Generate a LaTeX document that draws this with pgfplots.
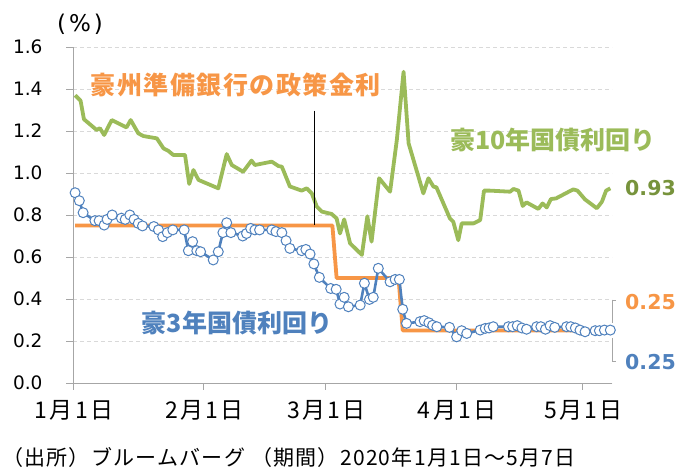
\documentclass[border=0pt]{standalone}
\usepackage{fontspec}
\setmainfont{Noto Sans CJK JP}
\newfontfamily\dv{DejaVu Sans}
\newfontfamily\jpls{Noto Sans CJK JP}[LetterSpace=10]
\newfontfamily\jpsrc{Noto Sans CJK JP}[LetterSpace=6]
\newfontfamily\jpor{Noto Sans CJK JP}[LetterSpace=6]
\usepackage{pgfplots}
\pgfplotsset{compat=1.18}
\definecolor{grn}{HTML}{9BBB59}
\definecolor{dgrn}{HTML}{77933C}
\definecolor{org}{HTML}{F79646}
\definecolor{blu}{HTML}{4F81BD}
\definecolor{axg}{HTML}{A6A6A6}
\definecolor{grd}{HTML}{D9D9D9}
\begin{document}
\begin{tikzpicture}[x=1pt,y=1pt]
\useasboundingbox (-73,-87) rectangle (602,383);
\begin{axis}[at={(0,0)}, anchor=south west, scale only axis,
  width=539pt, height=336pt,
  xmin=0, xmax=128, ymin=0, ymax=1.6,
  axis x line*=bottom, axis y line*=left,
  axis line style={draw=axg, line width=0.9pt},
  xtick={0,31,60,91,121},
  xticklabels={1月1日,2月1日,3月1日,4月1日,5月1日},
  ytick={0,0.2,0.4,0.6,0.8,1.0,1.2,1.4,1.6},
  yticklabels={0.0,0.2,0.4,0.6,0.8,1.0,1.2,1.4,1.6},
  ymajorgrids,
  grid style={draw=grd, line width=0.9pt, dash pattern=on 4pt off 3pt},
  tick align=outside, major tick length=7pt,
  tick style={draw=axg, line width=0.9pt},
  yticklabel style={font=\dv\fontsize{18.5}{18.5}\selectfont, anchor=east, xshift=-20pt},
  xticklabel style={font=\jpls\fontsize{23}{23}\selectfont, anchor=north, yshift=-7pt, xshift=1pt},
  clip=false,
]
% 10-year
\addplot[grn, line width=3.8pt, line join=round] coordinates {
(0.5,1.37)(1.8,1.344)(2.6,1.256)(5.6,1.205)(6.4,1.213)(7.4,1.181)(9.2,1.252)
(12.7,1.217)(13.7,1.252)(15.5,1.189)(16.7,1.176)(19.9,1.165)(21.5,1.117)
(22.6,1.106)(23.8,1.086)(26.6,1.086)(27.6,0.948)(28.6,1.014)(29.8,0.967)
(34.5,0.927)(36.5,1.09)(37.7,1.038)(40.4,1.006)(42.4,1.059)(43.2,1.038)
(47.2,1.054)(48.8,1.033)(49.6,1.030)(51.5,0.936)(54.3,0.916)(55.5,0.927)
(56.7,0.903)(57.9,0.840)(59.1,0.816)(61.4,0.805)(62.6,0.784)(63.4,0.712)
(64.4,0.779)(65.8,0.665)(68.6,0.610)(69.9,0.794)(70.9,0.673)(72.7,0.975)
(75.3,0.911)(76.9,1.157)(78.5,1.482)(79.7,1.141)(83.2,0.903)(84.4,0.975)
(85.6,0.935)(86.3,0.932)(89.5,0.784)(90.3,0.768)(91.5,0.680)(92.3,0.760)
(95.1,0.760)(96.7,0.776)(97.6,0.916)(99.0,0.916)(103.8,0.911)(104.6,0.924)
(105.8,0.916)(106.8,0.843)(107.7,0.860)(110.5,0.829)(111.5,0.855)(112.5,0.836)
(113.5,0.876)(114.7,0.879)(118.8,0.922)(119.8,0.916)(121.6,0.874)(124.4,0.832)
(125.6,0.863)(126.6,0.916)(127.6,0.927)
};
% policy rate
\addplot[org, line width=3.8pt, line join=round] coordinates {
(0.5,0.75)(61.6,0.75)(62.6,0.5)(77.3,0.5)(78.3,0.25)(127.3,0.25)
};
% 3-year
\addplot[blu, line width=2.6pt, mark=*, mark size=5pt,
  mark options={fill=white, draw=blu, line width=1pt}] coordinates {
(0.5,0.906)(1.5,0.868)(2.4,0.811)(5.2,0.773)(6.2,0.773)(7.4,0.752)(8.1,0.779)
(9.3,0.80)(11.5,0.785)(12.4,0.779)(13.5,0.80)(14.5,0.779)(15.5,0.76)(16.5,0.748)
(19.2,0.745)(20.3,0.729)(21.3,0.697)(22.4,0.716)(23.7,0.729)(26.4,0.729)
(27.4,0.63)(28.4,0.673)(29.4,0.63)(30.3,0.625)(33.3,0.586)(34.5,0.625)
(35.6,0.716)(36.5,0.763)(37.5,0.716)(40.3,0.70)(41.2,0.712)(42.2,0.736)
(43.2,0.729)(44.3,0.729)(47.2,0.729)(48.2,0.721)(49.6,0.716)(50.6,0.678)
(51.5,0.641)(54.3,0.63)(55.3,0.636)(56.3,0.614)(57.2,0.567)(58.5,0.503)
(61.2,0.45)(62.5,0.446)(63.4,0.376)(64.4,0.408)(65.4,0.363)(68.2,0.371)
(69.2,0.475)(70.4,0.398)(71.3,0.408)(72.5,0.546)(75.3,0.482)(76.5,0.493)
(77.5,0.493)(78.3,0.351)(79.2,0.284)(82.4,0.292)(83.4,0.297)(84.5,0.287)
(85.4,0.275)(86.4,0.268)(89.4,0.265)(91.1,0.22)(92.3,0.249)(93.5,0.236)
(96.7,0.252)(97.9,0.26)(98.8,0.262)(99.8,0.268)(103.4,0.268)(104.4,0.268)
(105.5,0.273)(106.6,0.262)(107.7,0.256)(110.1,0.268)(111.1,0.268)(112.2,0.256)
(113.3,0.273)(114.4,0.265)(117.2,0.268)(118.2,0.268)(119.3,0.262)(120.4,0.252)
(121.6,0.244)(124.0,0.249)(125.0,0.249)(126.2,0.252)(127.6,0.252)
};
% annotation line
\draw[black, line width=0.9pt] (axis cs:57.4,1.297) -- (axis cs:57.4,0.75);
\end{axis}
% labels (pt = px offsets from axis origin)
\node[font=\jpor\fontsize{25}{25}\selectfont\bfseries, text=org] at (163,298) {豪州準備銀行の政策金利};
\node[font=\fontsize{25}{25}\selectfont\bfseries, text=grn] at (480,243) {豪10年国債利回り};
\node[font=\fontsize{25}{25}\selectfont\bfseries, text=blu] at (164,60) {豪3年国債利回り};
\node[font=\dv\fontsize{20.5}{20.5}\selectfont\bfseries, text=dgrn, anchor=west, inner sep=0pt] at (552,195) {0.93};
\node[font=\dv\fontsize{20.5}{20.5}\selectfont\bfseries, text=org, anchor=west, inner sep=0pt] at (552,81) {0.25};
\node[font=\dv\fontsize{20.5}{20.5}\selectfont\bfseries, text=blu, anchor=west, inner sep=0pt] at (552,21) {0.25};
\draw[axg, line width=0.9pt] (543,83) -- (539,83) -- (539,60);
\draw[axg, line width=0.9pt] (539,45) -- (539,22) -- (543,22);
\node[font=\dv\fontsize{23}{23}\selectfont] at (7,359) {(\hspace{3pt}\%\hspace{3pt})};
\node[font=\jpsrc\fontsize{21}{21}\selectfont, anchor=west, inner sep=0pt] at (-71,-75) {（出所）ブルームバーグ （期間）2020年1月1日～5月7日};
\end{tikzpicture}
\end{document}
